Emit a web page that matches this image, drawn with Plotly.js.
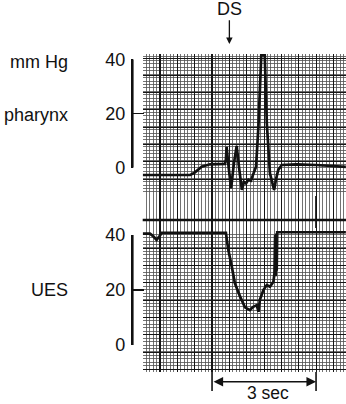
<!DOCTYPE html>
<html>
<head>
<meta charset="utf-8">
<script src="https://cdn.plot.ly/plotly-3.0.1.min.js"></script>
<style>html,body{margin:0;padding:0;background:#fff;}#chart{width:346px;height:404px;}</style>
</head>
<body>
<div id="chart"></div>
<script>
// ---- data ----
const timePharynx = [0, 1.37, 1.50, 1.62, 1.70, 1.94, 2.20, 2.37, 2.40, 2.42, 2.48, 2.55, 2.63, 2.71, 2.78, 2.86, 2.92, 2.98, 3.05, 3.12, 3.20, 3.27, 3.34, 3.39, 3.42, 3.52, 3.55, 3.58, 3.67, 3.79, 3.85, 3.91, 4.01, 4.44, 5.00, 5.69, 5.86];
const pharynx =     [-2.7, -2.7, -1.8, -0.6, 0.4, 1.25, 1.3, 1.4, 3.0, 7.7, 0.0, -7.6, 1.5, 8.0, 0.0, -8.2, -5.2, -5.8, -4.4, -4.8, -2.0, 0.4, 15.8, 30.0, 41.5, 41.5, 30.0, 16.4, -2.1, -8.2, -4.0, -0.8, 1.0, 1.25, 1.0, 0.4, 0.3];

const timeUES = [0, 0.21, 0.30, 0.40, 0.50, 0.55, 2.40, 2.47, 2.57, 2.66, 2.81, 2.95, 3.09, 3.19, 3.29, 3.34, 3.38, 3.48, 3.58, 3.67, 3.77, 3.80, 3.82, 3.835, 3.85, 3.865, 3.88, 3.91, 5.86];
const ues =     [40.5, 40.5, 39.6, 38.2, 39.8, 40.8, 40.8, 34.5, 28.5, 22.4, 17.6, 13.7, 12.7, 13.9, 14.5, 12.1, 16.4, 20.0, 21.8, 21.2, 23.0, 26.0, 40.0, 25.0, 40.5, 27.0, 41.0, 41.0, 41.0];

const scaleTicks = [0, 20, 40];
const scaleLabels = ['0', '20', '40'];
const dsTime = 2.5;          // deglutition signal
const timeMark = 5.0;        // event tick on the marker line
const barStart = 2, barEnd = 5, barLabel = '3 sec';

// ---- layout geometry (pixels) ----
const W = 346, H = 404;
const fx = px => px / W;
const fy = px => (H - px) / H;
const gridLeft = 142.7, pxPerSec = 34.67, scaleX = 132.7;
const gridTop = 54, phBottom = 195, uesTop = 231, gridBottom = 372;
const ph40 = 59.3, ph0 = 167.7;     // pharynx scale
const ue40 = 235, ue0 = 345;        // UES scale
const phPx = (ph0 - ph40) / 40, uePx = (ue0 - ue40) / 40;
const majorPx = 17.33, minorDiv = 5;
const xMax = (W - gridLeft) / pxPerSec;
const phRange = [-(phBottom - ph0) / phPx, 40 + (ph40 - gridTop) / phPx];
const ueRange = [-(gridBottom - ue0) / uePx, 40 + (ue40 - uesTop) / uePx];

const FONT = 'Liberation Sans, Arial, Helvetica, sans-serif';
const INK = '#111';
const MAJ = '#161616', MIN = '#505050';

function gridY(range, pxPer, topPx) {
  const d = majorPx / pxPer;
  return {
    range: range, showgrid: true, gridcolor: MAJ, gridwidth: 1,
    dtick: d, tick0: range[1] - (58 - topPx) / pxPer,
    minor: {dtick: d / minorDiv, showgrid: true, gridcolor: MIN, gridwidth: 0.8},
    showticklabels: false, ticks: '', zeroline: false, showline: false, fixedrange: true
  };
}
function scaleAxis(domain) {
  return {
    domain: domain, range: [0, 40], anchor: 'x2', side: 'left',
    showgrid: false, zeroline: false, showline: true, linecolor: INK, linewidth: 1.8,
    ticks: 'inside', ticklen: 11, tickwidth: 1.8, tickcolor: INK,
    tickvals: scaleTicks, ticktext: scaleLabels, ticklabelstandoff: 2,
    tickfont: {family: FONT, size: 18, color: INK}
  };
}
function scaleLine(yref) {
  return {type: 'line', xref: 'x2 domain', x0: 0, x1: 0, yref: yref, y0: scaleTicks[0], y1: scaleTicks[scaleTicks.length - 1],
          line: {color: INK, width: 1.8}};
}

const lineStyle = {color: INK, width: 2.7};
const data = [
  {type: 'scatter', mode: 'lines', x: timePharynx, y: pharynx, xaxis: 'x', yaxis: 'y', line: lineStyle, cliponaxis: false, hoverinfo: 'skip', showlegend: false},
  {type: 'scatter', mode: 'lines', x: timeUES, y: ues, xaxis: 'x', yaxis: 'y2', line: lineStyle, cliponaxis: false, hoverinfo: 'skip', showlegend: false},
  {type: 'scatter', mode: 'lines', x: [], y: [], xaxis: 'x', yaxis: 'y3', hoverinfo: 'skip', showlegend: false},
  {type: 'scatter', mode: 'lines', x: [], y: [], xaxis: 'x2', yaxis: 'y4', hoverinfo: 'skip', showlegend: false},
  {type: 'scatter', mode: 'lines', x: [], y: [], xaxis: 'x2', yaxis: 'y5', hoverinfo: 'skip', showlegend: false}
];

const layout = {
  width: W, height: H, margin: {l: 0, r: 0, t: 0, b: 0},
  paper_bgcolor: '#fff', plot_bgcolor: 'rgba(0,0,0,0)',
  font: {family: FONT, size: 18, color: INK},
  xaxis: {
    domain: [fx(gridLeft), 1], range: [0, xMax], anchor: 'y2',
    showgrid: true, gridcolor: MAJ, gridwidth: 1.1, dtick: 0.5, tick0: 0,
    minor: {dtick: 0.1, showgrid: true, gridcolor: MIN, gridwidth: 0.8},
    showticklabels: false, ticks: '', zeroline: false, showline: false
  },
  xaxis2: {domain: [fx(scaleX), fx(gridLeft)], range: [0, 1], anchor: 'y4', showgrid: false, zeroline: false,
           showline: false, showticklabels: false, ticks: ''},
  yaxis: Object.assign({domain: [fy(phBottom), fy(gridTop)], anchor: 'x'}, gridY(phRange, phPx, gridTop)),
  yaxis2: Object.assign({domain: [fy(gridBottom), fy(uesTop)], anchor: 'x'}, gridY(ueRange, uePx, 58)),
  yaxis3: {domain: [fy(uesTop), fy(phBottom)], range: [0, 1], anchor: 'x', showgrid: false, zeroline: false, showticklabels: false, ticks: ''},
  yaxis4: scaleAxis([fy(ph0), fy(ph40)]),
  yaxis5: scaleAxis([fy(ue0), fy(ue40)]),
  shapes: [
    scaleLine('y4'), scaleLine('y5'),
    {type: 'line', xref: 'x domain', x0: 0, x1: 1, yref: 'paper', y0: fy(220), y1: fy(220), line: {color: INK, width: 2.7}},
    {type: 'line', xref: 'x', x0: timeMark, x1: timeMark, yref: 'paper', y0: fy(196), y1: fy(228), line: {color: INK, width: 1.8}},
    {type: 'line', xref: 'x', x0: barStart, x1: barStart, yref: 'paper', y0: fy(372), y1: fy(391), line: {color: INK, width: 1.6}},
    {type: 'line', xref: 'x', x0: barEnd, x1: barEnd, yref: 'paper', y0: fy(372), y1: fy(391), line: {color: INK, width: 1.6}}
  ],
  annotations: [
    {text: 'DS', xref: 'x', x: dsTime, yref: 'paper', y: fy(44), showarrow: true, ax: 0, ay: 8.7 - 44,
     arrowhead: 2, arrowsize: 1, arrowwidth: 1.3, arrowcolor: INK, font: {size: 18}},
    {text: 'mm Hg', xref: 'paper', x: fx(70), xanchor: 'right', yref: 'paper', y: fy(62), yanchor: 'middle', showarrow: false},
    {text: 'pharynx', xref: 'paper', x: fx(70), xanchor: 'right', yref: 'paper', y: fy(114.5), yanchor: 'middle', showarrow: false},
    {text: 'UES', xref: 'paper', x: fx(70), xanchor: 'right', yref: 'paper', y: fy(290), yanchor: 'middle', showarrow: false},
    {text: '', xref: 'x', x: barEnd, yref: 'paper', y: fy(381.7), axref: 'x', ax: barStart, ayref: 'pixel', ay: 0,
     showarrow: true, arrowside: 'end+start', arrowhead: 2, arrowsize: 1.2, arrowwidth: 1.6, arrowcolor: INK},
    {text: barLabel, xref: 'x', x: (barStart + barEnd) / 2 + 0.1, yref: 'paper', y: fy(392.5), yanchor: 'middle', showarrow: false, font: {size: 17.5}}
  ]
};

Plotly.newPlot('chart', data, layout, {staticPlot: true, displayModeBar: false});
</script>
</body>
</html>
